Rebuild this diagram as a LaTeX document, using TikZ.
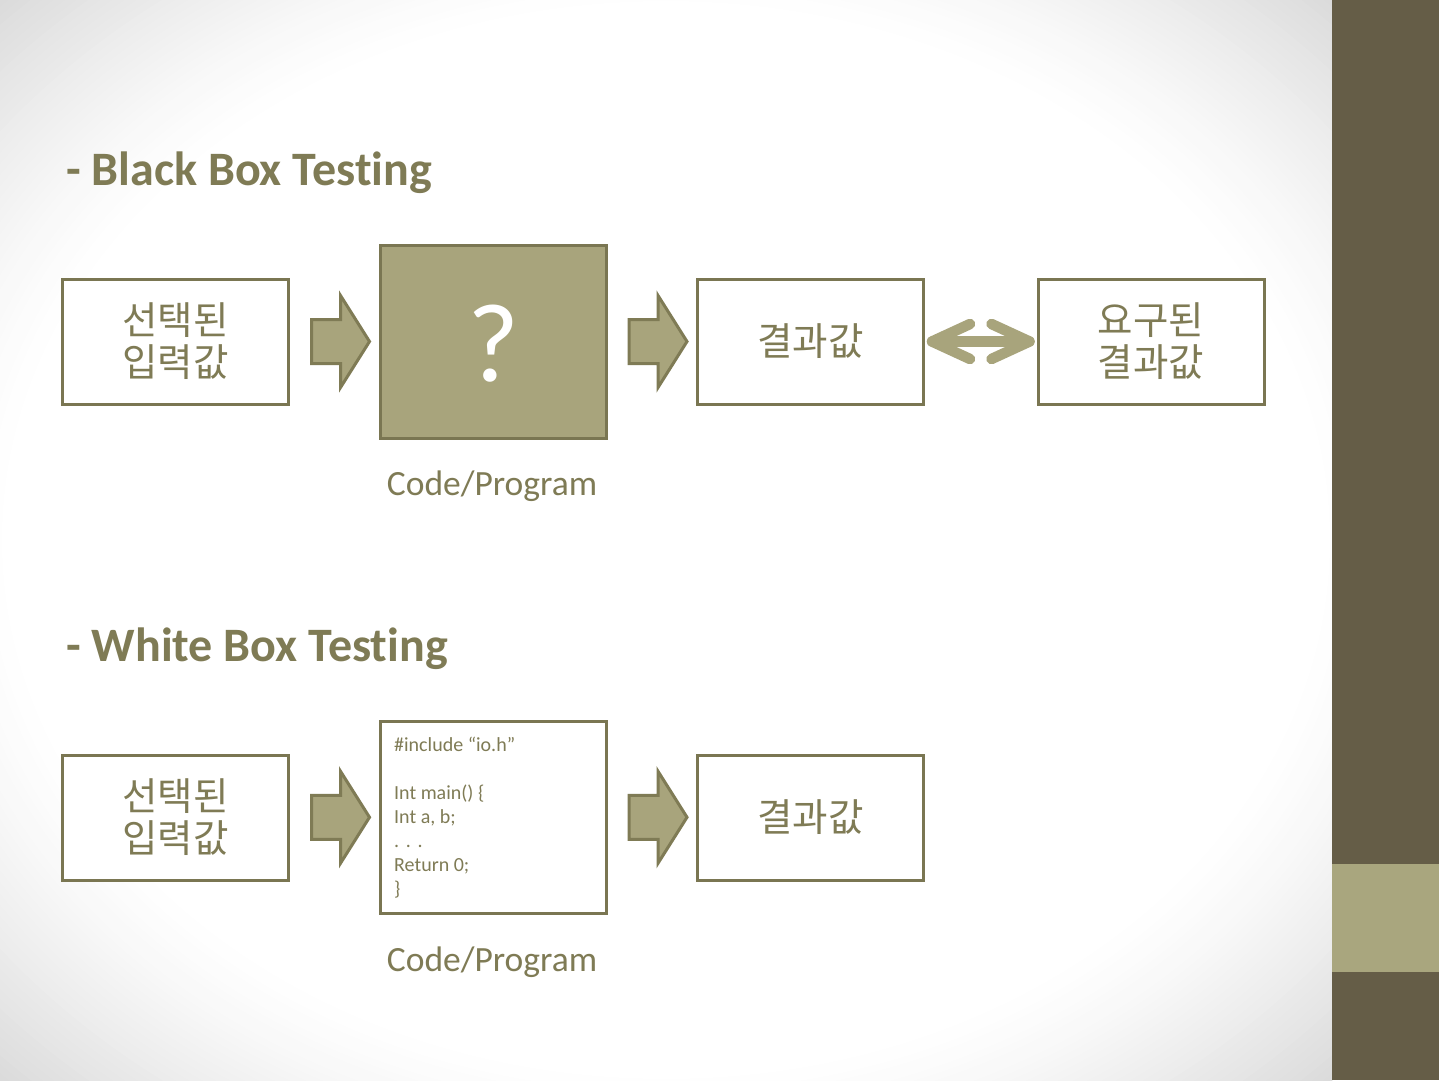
\documentclass[tikz,border=0pt]{standalone}
\usepackage{fontspec}
\setmainfont{Carlito}[RawFeature=-liga]
\newfontfamily\kr{Noto Sans CJK KR}
\usetikzlibrary{calc}
\definecolor{olivetext}{HTML}{7F7B55}
\definecolor{oliveline}{HTML}{7A7652}
\definecolor{olivefill}{HTML}{A8A47C}
\definecolor{sidedark}{HTML}{655D47}
\definecolor{sidelight}{HTML}{A9A67E}
\tikzset{
  box/.style={draw=oliveline, line width=3pt, minimum width=226pt, minimum height=125pt, inner sep=0pt, fill=white},
  krtext/.style={text=olivetext, font=\kr\fontsize{38.5pt}{42pt}\selectfont, align=center},
  title/.style={text=olivetext, font=\bfseries\fontsize{48pt}{52pt}\selectfont, anchor=base west, inner sep=0pt},
  caption/.style={text=olivetext, font=\fontsize{35.5pt}{40pt}\selectfont, anchor=base, inner sep=0pt},
  blockarrow/.style={draw=olivetext, fill=olivefill, line width=3pt, line join=miter},
  dbl/.style={draw=olivefill, line width=10.5pt, line cap=round, line join=round}
}
\begin{document}
\begin{tikzpicture}[x=1pt,y=-1pt]
\useasboundingbox (0,0) rectangle (1439,1080);
% background: soft radial vignette
\begin{scope}
\clip (0,0) rectangle (1332,1080);
\fill[black!14] (0,0) rectangle (1332,1080);
\foreach \i in {0,...,40}{
  \pgfmathsetmacro{\u}{1.02-\i*0.33/40}
  \pgfmathsetmacro{\g}{14*(max(0,(\u-0.70)/0.30))^1.3}
  \fill[black!\g] (666,540) ellipse [x radius=940*\u, y radius=763*\u];
}
\end{scope}
% side bar
\fill[sidedark] (1332,0) rectangle (1439,1080);
\fill[sidelight] (1332,864) rectangle (1439,972);

% titles
\node[title] (t1) at (66,185) {- Black Box Testing};
\node[title] (t2) at (66,661) {- White Box Testing};

% row 1
\node[box, krtext] (in1) at (175.5,341.5) {선택된\\입력값};
\node[box, fill=olivefill, minimum height=193pt] (q) at (493.5,341.5) {};
\node[text=white, font=\fontsize{112pt}{112pt}\selectfont, inner sep=0pt, anchor=base] (qm) at (493.5,381) {?};
\node[box, krtext] (out1) at (810.5,341.5) {결과값};
\node[box, krtext] (want) at (1151,341.5) {요구된\\결과값};
\node[caption] (c1) at (492,495) {Code/Program};

% row 2
\node[box, krtext] (in2) at (175.5,817.5) {선택된\\입력값};
\node[box, minimum height=192pt] (code) at (493.5,817) {};
\node[text=olivetext, font=\fontsize{20pt}{24pt}\selectfont, align=left, anchor=north west, inner sep=0pt] (codetext) at (394,737) {\#include “io.h”\\[24pt]Int main() \{\\Int a, b;\\.\,\,.\,\,.\\Return 0;\\\}};
\node[box, krtext] (out2) at (810.5,817.5) {결과값};
\node[caption] (c2) at (492,971) {Code/Program};

% block arrows
\foreach \s/\t/\n in {in1/q/a1, q/out1/a2, in2/code/a3, code/out2/a4}{
  \coordinate (\n) at ($(\s.east)!0.5!(\t.west)+(6,0)$);
  \draw[blockarrow] ($(\n)+(-29,-22)$) -- ++(29,0) -- ++(0,-24) -- ++(29,46) -- ++(-29,46) -- ++(0,-24) -- ++(-29,0) -- cycle;
}

% double arrow
\coordinate (dl) at ($(out1.east)+(7,0)$);
\coordinate (dr) at ($(want.west)+(-7,0)$);
\draw[dbl] (dl) -- (dr);
\draw[dbl] ($(dl)+(38,-17.5)$) -- (dl) -- ($(dl)+(38,17.5)$);
\draw[dbl] ($(dr)+(-38,-17.5)$) -- (dr) -- ($(dr)+(-38,17.5)$);
\end{tikzpicture}
\end{document}
